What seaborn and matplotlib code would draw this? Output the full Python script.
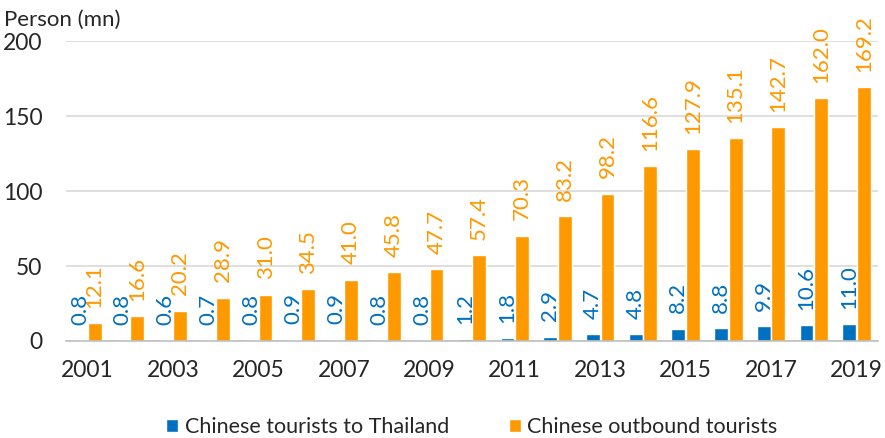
import matplotlib
matplotlib.use("Agg")
import matplotlib.pyplot as plt
import seaborn as sns
import pandas as pd

# datos
years = [str(y) for y in range(2001, 2020)]
thailand = [0.8, 0.8, 0.6, 0.7, 0.8, 0.9, 0.9, 0.8, 0.8, 1.2, 1.8, 2.9, 4.7, 4.8, 8.2, 8.8, 9.9, 10.6, 11.0]
outbound = [12.1, 16.6, 20.2, 28.9, 31.0, 34.5, 41.0, 45.8, 47.7, 57.4, 70.3, 83.2, 98.2, 116.6, 127.9, 135.1, 142.7, 162.0, 169.2]
series_names = ["Chinese tourists to Thailand", "Chinese outbound tourists"]
colors = ["#0070C0", "#FF9900"]

df = pd.DataFrame({
    "year": years * 2,
    "value": thailand + outbound,
    "series": [series_names[0]] * len(years) + [series_names[1]] * len(years),
})

sns.set_style("white")
plt.rcParams["font.family"] = ["Lato", "DejaVu Sans"]

fig = plt.figure(figsize=(8.85, 4.38), dpi=100)
ax = fig.add_axes([0.0746, 0.2215, 0.9174, 0.6845])

sns.barplot(data=df, x="year", y="value", hue="series", palette=colors,
            width=0.68, gap=0.05, ax=ax, saturation=1)

# etiquetas de datos
for cont, col in zip(ax.containers, colors):
    ax.bar_label(cont, fmt="%.1f", rotation=90, padding=11, color=col,
                 fontsize=16, clip_on=False)

ax.set_ylim(0, 200)
ax.set_xlim(-0.5, 18.5)
ax.set_yticks([0, 50, 100, 150, 200])
ax.yaxis.grid(True, color="#D9D9D9", linewidth=1.2)
ax.set_axisbelow(True)
for s in ["left", "right", "top"]:
    ax.spines[s].set_visible(False)
ax.spines["bottom"].set_color("#BFBFBF")
ax.spines["bottom"].set_linewidth(1.2)

ax.set_xticks(range(0, 19, 2))
ax.set_xticklabels(years[::2])
ax.set_xticks([i - 0.5 for i in range(0, 19, 2)], minor=True)
ax.tick_params(axis="x", which="major", length=0, labelsize=16.5, pad=14)
ax.tick_params(axis="x", which="minor", length=8, color="#BFBFBF", width=1.2)
ax.tick_params(axis="y", length=0, labelsize=16.5, pad=17)
ax.set_xlabel("")
ax.set_ylabel("")

fig.text(0.005, 0.978, "Person (mn)", fontsize=16, va="top", ha="left")

ax.legend(loc="upper center", bbox_to_anchor=(0.5, -0.19), ncol=2, frameon=False,
          fontsize=15.5, handlelength=0.55, handleheight=0.55, handletextpad=0.3,
          columnspacing=2.8)

fig.savefig("out.png", dpi=100)
